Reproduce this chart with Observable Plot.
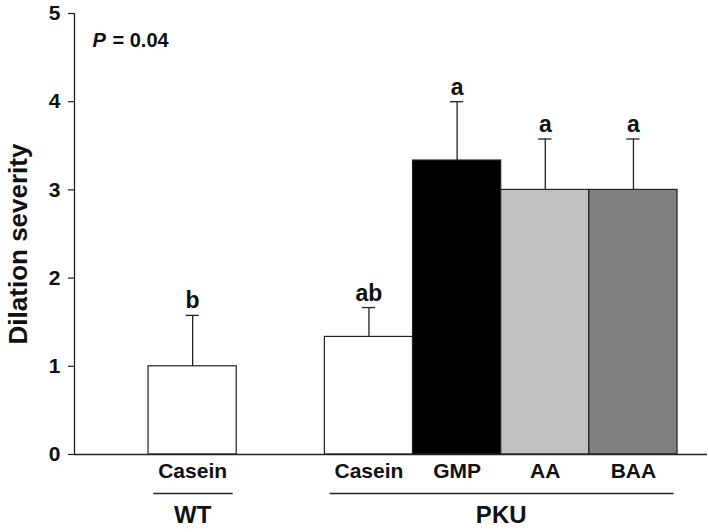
<!DOCTYPE html>
<html>
<head>
<meta charset="utf-8">
<script src="https://cdn.jsdelivr.net/npm/d3@7"></script>
<script src="https://cdn.jsdelivr.net/npm/@observablehq/plot@0.6"></script>
<style>
  html, body { margin: 0; padding: 0; background: #fff; }
  #chart svg { display: block; }
</style>
</head>
<body>
<div id="chart"></div>
<script>
// ---- data ----
const categories = ["Casein", "Casein", "GMP", "AA", "BAA"];
const groupOf    = ["WT", "PKU", "PKU", "PKU", "PKU"];
const positions  = [0, 2, 3, 4, 5];
const means      = [1.0, 1.333, 3.333, 3.0, 3.0];
const errors     = [0.577, 0.333, 0.667, 0.577, 0.577];
const letters    = ["b", "ab", "a", "a", "a"];
const fills      = ["#ffffff", "#ffffff", "#000000", "#c0c0c0", "#808080"];
const groups     = ["WT", "PKU"];
const yTicks     = [0, 1, 2, 3, 4, 5];
const yLabel     = "Dilation severity";
const pLabel     = "P";
const pValueText = "= 0.04";

const xDomain = [-1.34, 5.84];
const yDomain = [0, 5];

const bars = categories.map((c, i) => ({
  cat: c, group: groupOf[i], pos: positions[i], mean: means[i],
  top: means[i] + errors[i], letter: letters[i], fill: fills[i]
}));
const groupSpans = groups.map(g => {
  const ps = bars.filter(b => b.group === g).map(b => b.pos);
  return {group: g, lo: d3.min(ps), hi: d3.max(ps), mid: (d3.min(ps) + d3.max(ps)) / 2};
});

const FONT = "'Liberation Sans', Arial, Helvetica, sans-serif";
const INK = "#222";
const cap = 0.075;

const chart = Plot.plot({
  width: 709,
  height: 532,
  marginLeft: 74,
  marginRight: 2,
  marginTop: 13,
  marginBottom: 78,
  style: {fontFamily: FONT, fontWeight: "bold", background: "#fff", overflow: "visible"},
  x: {type: "linear", domain: xDomain, axis: null},
  y: {domain: yDomain},
  marks: [
    Plot.axisY({ticks: yTicks, tickFormat: d => String(d), tickSize: 6, tickPadding: 8, fontSize: 21, fontWeight: "bold", label: null, stroke: INK, color: "#111", strokeWidth: 1.2}),
    // bars
    Plot.rectY(bars, {x1: d => d.pos - 0.5, x2: d => d.pos + 0.5, y1: 0, y2: "mean", fill: "fill", stroke: INK, strokeWidth: 1.2}),
    // error bars
    Plot.ruleX(bars, {x: "pos", y1: "mean", y2: "top", stroke: INK, strokeWidth: 1.3}),
    Plot.ruleY(bars, {y: "top", x1: d => d.pos - cap, x2: d => d.pos + cap, stroke: INK, strokeWidth: 1.3}),
    // significance letters
    Plot.text(bars, {x: "pos", y: "top", text: "letter", dy: -7, lineAnchor: "bottom", fontSize: 23, fontWeight: "bold", fill: "#111"}),
    // axis lines
    Plot.ruleX([xDomain[0]], {stroke: INK, strokeWidth: 1.3}),
    Plot.ruleY([0], {stroke: INK, strokeWidth: 1.3}),
    // category labels
    Plot.text(bars, {x: "pos", y: () => 0, text: "cat", dy: 9, lineAnchor: "top", fontSize: 21, fontWeight: "bold", fill: "#111"}),
    // group lines and labels
    Plot.ruleY(groupSpans, {y: () => 0, x1: d => d.lo - 0.44, x2: d => d.hi + 0.46, dy: 39, stroke: INK, strokeWidth: 1.3}),
    Plot.text(groupSpans, {x: "mid", y: () => 0, text: "group", dy: 68, lineAnchor: "bottom", fontSize: 24, fontWeight: "bold", fill: "#111"}),
    // y label
    Plot.text([yLabel], {frameAnchor: "left", text: d => d, rotate: -90, textAnchor: "middle", dx: -56, dy: 10, fontSize: 26, fontWeight: "bold", fill: "#111"}),
    // P value
    Plot.text([pLabel], {frameAnchor: "top-left", text: d => d, dx: 18, dy: 19, lineAnchor: "top", textAnchor: "start", fontSize: 20, fontWeight: "bold", fontStyle: "italic", fill: "#111"}),
    Plot.text([pValueText], {frameAnchor: "top-left", text: d => d, dx: 38, dy: 19, lineAnchor: "top", textAnchor: "start", fontSize: 20, fontWeight: "bold", fill: "#111"})
  ]
});
document.getElementById("chart").appendChild(chart);
</script>
</body>
</html>
